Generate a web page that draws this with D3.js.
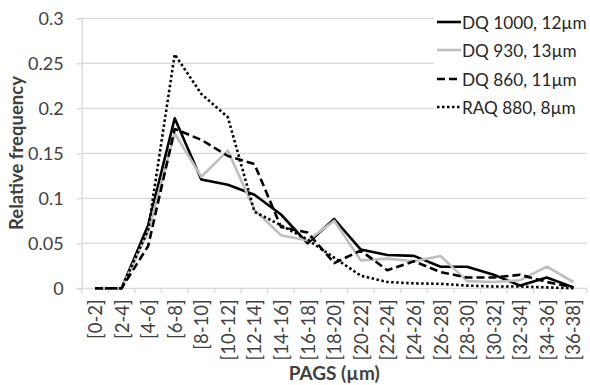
<!DOCTYPE html>
<html><head><meta charset="utf-8">
<script src="https://cdn.jsdelivr.net/npm/d3@7"></script>
<style>
html,body{margin:0;padding:0;background:#fff;}
svg{display:block;font-family:Lato, "Open Sans", sans-serif;}
</style></head>
<body>
<svg id="chart" width="590" height="385"></svg>
<script>
const categories = ["[0-2]","[2-4]","[4-6]","[6-8]","[8-10]","[10-12]","[12-14]","[14-16]","[16-18]","[18-20]","[20-22]","[22-24]","[24-26]","[26-28]","[28-30]","[30-32]","[32-34]","[34-36]","[36-38]"];
const dq1000 = [0,0,0.07,0.189,0.121,0.115,0.104,0.082,0.05,0.077,0.043,0.037,0.036,0.024,0.024,0.015,0.003,0.012,0.001];
const dq930  = [0,0,0.063,0.172,0.124,0.153,0.087,0.059,0.053,0.075,0.031,0.033,0.030,0.036,0.008,0.007,0.009,0.024,0.007];
const dq860  = [0,0,0.047,0.177,0.165,0.147,0.138,0.068,0.062,0.028,0.042,0.020,0.030,0.018,0.012,0.012,0.015,0.007,0.001];
const raq880 = [0,0,0.065,0.26,0.216,0.19,0.085,0.07,0.054,0.034,0.014,0.007,0.0055,0.005,0.003,0.002,0.002,0.001,0];
const seriesNames = ["DQ 1000, 12\u00b5m","DQ 930, 13\u00b5m","DQ 860, 11\u00b5m","RAQ 880, 8\u00b5m"];
const yTickValues = [0,0.05,0.1,0.15,0.2,0.25,0.3];
const yTickLabels = ["0","0.05","0.1","0.15","0.2","0.25","0.3"];
const xTitle = "PAGS (\u00b5m)";
const yTitle = "Relative frequency";

const svg = d3.select("#chart");
const W = 590, H = 385;
const m = {left:81.7, right:3.3, top:18.3, bottom:96.7};
const x = d3.scaleBand().domain(categories).range([m.left, W-m.right]).padding(0);
const y = d3.scaleLinear().domain([0,0.3]).range([H-m.bottom, m.top]);
const grid = "#d9d9d9", textCol = "#404040";

// gridlines
svg.append("g").selectAll("line").data(yTickValues.filter(d=>d>0)).join("line")
  .attr("x1", m.left).attr("x2", W-m.right)
  .attr("y1", d=>y(d)).attr("y2", d=>y(d))
  .attr("stroke", grid).attr("stroke-width",1.3);

// y axis
const yAxis = svg.append("g").attr("transform",`translate(${m.left},0)`)
  .call(d3.axisLeft(y).tickValues(yTickValues).tickFormat((d,i)=>yTickLabels[i]).tickSize(5).tickPadding(13));
yAxis.select(".domain").attr("stroke", grid).attr("stroke-width",1.3);
yAxis.selectAll(".tick line").attr("stroke", grid).attr("stroke-width",1.3);
yAxis.selectAll("text").attr("font-size","18px").attr("fill",textCol).attr("font-family","Lato");

// x axis: ticks at category boundaries
const xg = svg.append("g");
xg.append("line").attr("x1",m.left).attr("x2",W-m.right).attr("y1",y(0)).attr("y2",y(0)).attr("stroke",grid).attr("stroke-width",1.3);
const bounds = categories.map(c=>x(c)).concat([x(categories[categories.length-1])+x.bandwidth()]);
xg.selectAll(".tk").data(bounds).join("line").attr("class","tk")
  .attr("x1",d=>d).attr("x2",d=>d).attr("y1",y(0)).attr("y2",y(0)+5)
  .attr("stroke",grid).attr("stroke-width",1.3);
xg.selectAll(".lbl").data(categories).join("text").attr("class","lbl")
  .attr("transform",d=>`translate(${x(d)+x.bandwidth()/2},${y(0)+11}) rotate(-90)`)
  .attr("text-anchor","end").attr("dominant-baseline","central")
  .attr("font-size","18.5px").attr("fill",textCol).text(d=>d);

// titles
svg.append("text").attr("x", (m.left + W - m.right)/2).attr("y", 380)
  .attr("text-anchor","middle").attr("font-weight","bold").attr("font-size","19px").attr("fill",textCol).text(xTitle);
svg.append("text").attr("transform","translate(23,153) rotate(-90)")
  .attr("text-anchor","middle").attr("font-weight","bold").attr("font-size","18.5px").attr("fill",textCol).text(yTitle);

// series
const styles = [
  {data:dq1000, color:"#000", dash:null},
  {data:dq930, color:"#bfbfbf", dash:null},
  {data:dq860, color:"#000", dash:"8,4"},
  {data:raq880, color:"#000", dash:"2.5,2.5"}
];
const line = d3.line().x((d,i)=>x(categories[i])+x.bandwidth()/2).y(d=>y(d));
styles.forEach(s=>{
  svg.append("path").datum(s.data).attr("d",line).attr("fill","none")
    .attr("stroke",s.color).attr("stroke-width",2.6).attr("stroke-linejoin","round")
    .attr("stroke-dasharray",s.dash);
});

// legend
const lg = svg.append("g");
lg.append("rect").attr("x",434).attr("y",4).attr("width",156).attr("height",116).attr("fill","#fff");
const legY = [22,50,79,107];
styles.forEach((s,i)=>{
  lg.append("line").attr("x1",437).attr("x2",461).attr("y1",legY[i]).attr("y2",legY[i])
    .attr("stroke",s.color).attr("stroke-width",2.6).attr("stroke-dasharray",s.dash);
  lg.append("text").attr("x",462).attr("y",legY[i]).attr("dominant-baseline","central")
    .attr("font-size","17.2px").attr("fill","#262626").text(seriesNames[i]);
});
</script>
</body></html>
